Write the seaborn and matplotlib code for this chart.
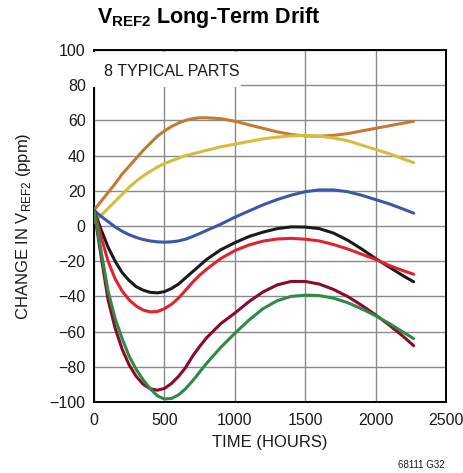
import pandas as pd
import numpy as np
import matplotlib
matplotlib.use('Agg')
import matplotlib.pyplot as plt
import seaborn as sns
from matplotlib.patches import Rectangle

# ── Data ──────────────────────────────────────────────────────────────────────
hours = [0, 50, 100, 150, 200, 250, 300, 350, 400, 450, 500, 550, 600, 650, 700, 750, 800,
         900, 1000, 1100, 1200, 1300, 1400, 1500, 1600, 1700, 1800, 1900, 2000, 2100, 2200, 2270]

part_orange = [9, 14, 19, 24, 29.5, 34, 38.5, 43, 47, 51, 54, 56.5, 58.5, 60, 61, 61.5, 61.5,
               61, 59.5, 57.5, 55.5, 53.5, 52, 51.2, 51, 51.5, 52.5, 54, 55.5, 57, 58.5, 59.5]
part_yellow = [2, 6, 10, 14, 18, 22, 25.5, 28.5, 31, 33.5, 35.5, 37, 38.5, 40, 41, 42, 43,
               45, 46.5, 48, 49.5, 50.5, 51.2, 51.5, 51, 50, 48.5, 46, 43.5, 41, 38, 36]
part_blue = [9, 5.5, 2.5, -0.5, -3, -5, -6.5, -7.7, -8.5, -9, -9.2, -9, -8.5, -7.5, -6, -4.3, -2.5,
             1, 5, 8.5, 12, 15, 17.5, 19.5, 20.5, 20.5, 19.5, 17.5, 15, 12.5, 9.5, 7.3]
part_black = [9, -2, -12, -20, -26.5, -31, -34.5, -36.5, -37.7, -38, -37.3, -35.5, -33, -29.5, -26, -22.5, -19,
              -13.5, -9.5, -6, -3.5, -1.5, -0.5, -0.6, -1.5, -4, -8, -13, -18.5, -23.5, -28.5, -31.7]
part_red = [9, -6, -20, -30, -37, -42, -45.5, -47.8, -48.8, -48.6, -47, -44.5, -41, -36.5, -32, -28, -24.5,
            -18.5, -14, -10.8, -8.6, -7.4, -7, -7.5, -8.5, -10.5, -13, -16, -19, -22.5, -25.5, -27.4]
part_maroon = [9, -17, -42, -58, -70, -79, -85.5, -90, -92.5, -93.3, -92.3, -89.5, -85.5, -80.5, -74, -68.5, -63.5,
               -55.5, -49.5, -43, -37.5, -33.5, -31.5, -31.5, -33, -36, -40, -45, -50.5, -56.5, -63, -68]
part_green = [9, -14, -37, -52.5, -64, -74, -81.5, -87.5, -92.5, -96.5, -98.3, -98, -96, -92.5, -88, -83, -78,
              -69, -61, -53.5, -47, -42.5, -40, -39.3, -39.5, -41, -43.5, -47, -51, -55.5, -60.5, -64]

parts = ['orange', 'yellow', 'blue', 'black', 'red', 'maroon', 'green']
series = [part_orange, part_yellow, part_blue, part_black, part_red, part_maroon, part_green]
colors = ['#C27A34', '#D8BC3C', '#3A58A8', '#1A1A1A', '#E1222F', '#8A0A2C', '#2F8A48']

df = pd.concat([pd.DataFrame({'Hours': hours, 'ppm': vals, 'Part': name})
                for name, vals in zip(parts, series)], ignore_index=True)

# ── Style ─────────────────────────────────────────────────────────────────────
sns.set_theme(style='white')
plt.rcParams['font.family'] = ['Liberation Sans', 'DejaVu Sans']
plt.rcParams['mathtext.fontset'] = 'custom'
plt.rcParams['mathtext.rm'] = 'Liberation Sans'
plt.rcParams['mathtext.bf'] = 'Liberation Sans:bold'

fig = plt.figure(figsize=(4.63, 4.73), dpi=100)
ax = fig.add_axes([94 / 463, 1 - 402 / 473, 352 / 463, 352 / 473])

sns.lineplot(data=df, x='Hours', y='ppm', hue='Part', palette=dict(zip(parts, colors)),
             linewidth=2.2, legend=False, ax=ax, zorder=3)

ax.set_xlim(0, 2500)
ax.set_ylim(-100, 100)
ax.set_xticks(np.arange(0, 2501, 500))
ax.set_yticks(np.arange(-100, 101, 20))
ax.grid(True, color='#8a8a8a', linewidth=1.0)
ax.tick_params(length=0, labelsize=11.5, colors='#1a1a1a')
ax.tick_params(axis='x', pad=8)
ax.tick_params(axis='y', pad=6)
for s in ax.spines.values():
    s.set_color('black')
    s.set_linewidth(1.4)

ax.set_xlabel('TIME (HOURS)', fontsize=12, color='#1a1a1a', labelpad=5)
ax.set_ylabel(r'CHANGE IN V$_{\mathrm{REF2}}$ (ppm)', fontsize=12, color='#1a1a1a', labelpad=12)

# label box covering the grid
ax.add_patch(Rectangle((-0.01, 0.895), 0.428, 0.1, transform=ax.transAxes,
                       facecolor='white', edgecolor='none', zorder=4, clip_on=False))
ax.text(0.027, 0.94, '8 TYPICAL PARTS', transform=ax.transAxes, fontsize=11.5,
        va='center', ha='left', color='#1a1a1a', zorder=5)

fig.text(97 / 463, 1 - 18 / 473, r'$\mathbf{V_{REF2}}$ Long-Term Drift', fontsize=15.5,
         fontweight='bold', va='center', ha='left', color='black')
fig.text(445 / 463, 1 - 465 / 473, '68111 G32', fontsize=7, ha='right', va='center',
         color='#1a1a1a')

fig.savefig('out.png', dpi=100)
